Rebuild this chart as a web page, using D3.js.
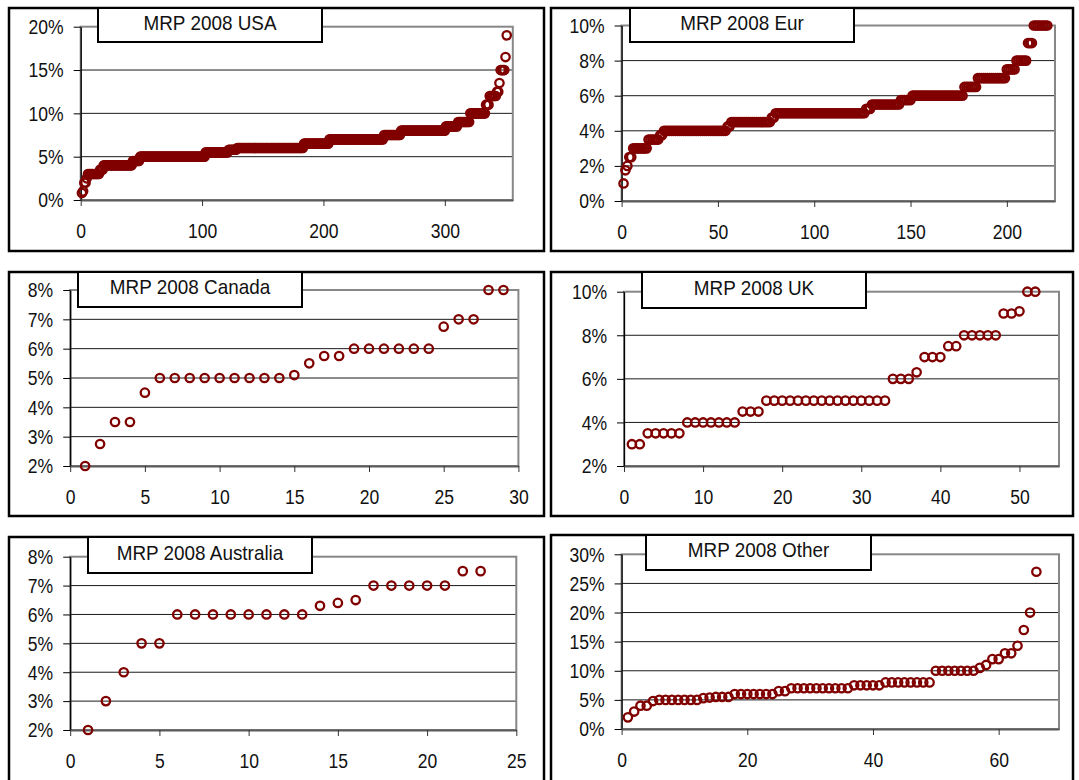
<!DOCTYPE html>
<html>
<head>
<meta charset="utf-8">
<script src="https://cdn.jsdelivr.net/npm/d3@7"></script>
<style>
  body { margin: 0; background: #fff; }
  text { font-family: "Liberation Sans", Arial, sans-serif; fill: #111; }
</style>
</head>
<body>
<svg id="chart" width="1079" height="780"></svg>
<script>
// Sorted MRP answers, in %.
// USA and Eur are long flat runs, so they are kept as [value, count] pairs.
const usaRuns = [
  [0.8, 1], [1.0, 1], [2.0, 2], [2.5, 1], [3.0, 10], [3.5, 3], [4.0, 24], [4.5, 6],
  [5.0, 54], [5.5, 19], [5.8, 7], [6.0, 55], [6.5, 21], [7.0, 45], [7.5, 14], [8.0, 37],
  [8.5, 10], [9.0, 10], [10.0, 13], [11.0, 3], [12.0, 6], [12.5, 2], [13.5, 1], [15.0, 4],
  [16.5, 1], [19.0, 1]
];
const eurRuns = [
  [1.0, 1], [1.75, 1], [2.0, 1], [2.5, 2], [3.0, 8], [3.5, 6], [3.75, 2], [4.0, 33],
  [4.25, 2], [4.5, 21], [4.75, 2], [5.0, 47], [5.25, 3], [5.5, 15], [5.75, 6], [6.0, 27],
  [6.5, 7], [7.0, 15], [7.5, 5], [8.0, 6], [9.0, 3], [10.0, 8]
];
const canadaValues = [2.0, 2.75, 3.5, 3.5, 4.5, 5, 5, 5, 5, 5, 5, 5, 5, 5, 5.1, 5.5, 5.75, 5.75,
  6, 6, 6, 6, 6, 6, 6.75, 7, 7, 8, 8];
const ukValues = [3, 3, 3.5, 3.5, 3.5, 3.5, 3.5, 4, 4, 4, 4, 4, 4, 4, 4.5, 4.5, 4.5,
  5, 5, 5, 5, 5, 5, 5, 5, 5, 5, 5, 5, 5, 5, 5, 5, 6, 6, 6, 6.3, 7, 7, 7, 7.5, 7.5,
  8, 8, 8, 8, 8, 9, 9, 9.1, 10, 10];
const australiaValues = [2, 3, 4, 5, 5, 6, 6, 6, 6, 6, 6, 6, 6, 6.3, 6.4, 6.5, 7, 7, 7, 7, 7, 7.5, 7.5];
const otherValues = [2, 3, 4, 4, 4.8, 5, 5, 5, 5, 5, 5, 5, 5.3, 5.4, 5.5, 5.5, 5.5,
  6, 6, 6, 6, 6, 6, 6, 6.5, 6.5, 7, 7, 7, 7, 7, 7, 7, 7, 7, 7, 7.5, 7.5, 7.5, 7.5, 7.5,
  8, 8, 8, 8, 8, 8, 8, 8, 10, 10, 10, 10, 10, 10, 10, 10.5, 11, 12, 12, 13, 13, 14.3, 17, 20, 27];

const usaXTicks = [0, 100, 200, 300];
const usaYTicks = [0, 5, 10, 15, 20];
const eurXTicks = [0, 50, 100, 150, 200];
const eurYTicks = [0, 2, 4, 6, 8, 10];
const canadaXTicks = [0, 5, 10, 15, 20, 25, 30];
const canadaYTicks = [2, 3, 4, 5, 6, 7, 8];
const ukXTicks = [0, 10, 20, 30, 40, 50];
const ukYTicks = [2, 4, 6, 8, 10];
const australiaXTicks = [0, 5, 10, 15, 20, 25];
const australiaYTicks = [2, 3, 4, 5, 6, 7, 8];
const otherXTicks = [0, 20, 40, 60];
const otherYTicks = [0, 5, 10, 15, 20, 25, 30];

const expand = runs => runs.flatMap(([v, n]) => Array(n).fill(v));

const panels = [
  { title: "MRP 2008 USA", values: expand(usaRuns), xMax: 356, yDomain: [0, 20],
    xTicks: usaXTicks, yTicks: usaYTicks,
    frame: [9, 8, 544, 251], plot: [80.7, 26.7, 512.8, 200], box: [98, 8, 322, 42] },
  { title: "MRP 2008 Eur", values: expand(eurRuns), xMax: 225, yDomain: [0, 10],
    xTicks: eurXTicks, yTicks: eurYTicks,
    frame: [551, 8, 1073, 251], plot: [621.6, 25.5, 1055, 201], box: [630, 8, 854, 42] },
  { title: "MRP 2008 Canada", values: canadaValues, xMax: 30, yDomain: [2, 8],
    xTicks: canadaXTicks, yTicks: canadaYTicks,
    frame: [9, 272, 544, 516], plot: [70.2, 290, 518.4, 466], box: [78, 272, 302, 307] },
  { title: "MRP 2008 UK", values: ukValues, xMax: 55, yDomain: [2, 10],
    xTicks: ukXTicks, yTicks: ukYTicks,
    frame: [551, 272, 1073, 516], plot: [624, 291.7, 1059, 466], box: [642, 272, 866, 308] },
  { title: "MRP 2008 Australia", values: australiaValues, xMax: 25, yDomain: [2, 8],
    xTicks: australiaXTicks, yTicks: australiaYTicks,
    frame: [9, 537, 544, 795], plot: [70.2, 556.7, 516.3, 730], box: [88, 537, 312, 573] },
  { title: "MRP 2008 Other", values: otherValues, xMax: 69.6, yDomain: [0, 30],
    xTicks: otherXTicks, yTicks: otherYTicks,
    frame: [551, 535, 1073, 795], plot: [621.6, 554.3, 1059, 729], box: [646, 535, 871, 570] }
];

const svg = d3.select("#chart");
const squeeze = 0.9; // the original lettering is a little narrower than Arial
const tickFont = "19.5px";

panels.forEach(p => {
  const [fx0, fy0, fx1, fy1] = p.frame;
  const [px0, py0, px1, py1] = p.plot;
  const w = px1 - px0, h = py1 - py0;

  // outer frame of the panel
  svg.append("rect")
    .attr("x", fx0).attr("y", fy0)
    .attr("width", fx1 - fx0).attr("height", fy1 - fy0)
    .attr("fill", "none").attr("stroke", "#000").attr("stroke-width", 2.5);

  const g = svg.append("g").attr("transform", `translate(${px0},${py0})`);

  const x = d3.scaleLinear().domain([0, p.xMax]).range([0, w]);
  const y = d3.scaleLinear().domain(p.yDomain).range([h, 0]);

  // horizontal gridlines
  g.selectAll(".grid")
    .data(p.yTicks.slice(1, -1))
    .enter().append("line")
    .attr("x1", 0).attr("x2", w)
    .attr("y1", d => y(d)).attr("y2", d => y(d))
    .attr("stroke", "#1a1a1a").attr("stroke-width", 1);

  // plot area border
  g.append("rect")
    .attr("width", w).attr("height", h)
    .attr("fill", "none").attr("stroke", "#878787").attr("stroke-width", 2);

  // y axis
  const yAxis = g.append("g")
    .call(d3.axisLeft(y).tickValues(p.yTicks).tickSize(7).tickSizeOuter(0)
      .tickFormat(d => d + "%"));
  yAxis.select(".domain").attr("stroke", "#000").attr("stroke-width", 1.3);
  yAxis.selectAll(".tick line").attr("stroke", "#000");
  yAxis.selectAll(".tick text")
    .attr("x", -17 / squeeze).attr("dy", "0.35em")
    .attr("transform", `scale(${squeeze},1)`)
    .style("font-size", tickFont).attr("fill", "#111");

  // x axis
  const xAxis = g.append("g")
    .attr("transform", `translate(0,${h})`)
    .call(d3.axisBottom(x).tickValues(p.xTicks).tickSize(6).tickSizeOuter(0));
  xAxis.select(".domain").attr("stroke", "#5a5a5a").attr("stroke-width", 2);
  xAxis.selectAll(".tick line").attr("stroke", "#333");
  xAxis.selectAll(".tick text")
    .attr("y", 24).attr("dy", "0.71em")
    .attr("transform", `scale(${squeeze},1)`)
    .style("font-size", tickFont).attr("fill", "#111");

  // markers
  g.selectAll(".pt")
    .data(p.values)
    .enter().append("circle")
    .attr("class", "pt")
    .attr("cx", (d, i) => x(i + 1))
    .attr("cy", d => y(d))
    .attr("r", 4.2)
    .attr("fill", "none")
    .attr("stroke", "#800000")
    .attr("stroke-width", 2.3);

  // title box
  const [bx0, by0, bx1, by1] = p.box;
  svg.append("rect")
    .attr("x", bx0).attr("y", by0)
    .attr("width", bx1 - bx0).attr("height", by1 - by0)
    .attr("fill", "#fff").attr("stroke", "#000").attr("stroke-width", 2);
  svg.append("text")
    .attr("transform", `translate(${(bx0 + bx1) / 2},${(by0 + by1) / 2 + 4.5}) scale(0.9,1)`)
    .attr("text-anchor", "middle")
    .style("font-size", "21px")
    .text(p.title);
});
</script>
</body>
</html>
